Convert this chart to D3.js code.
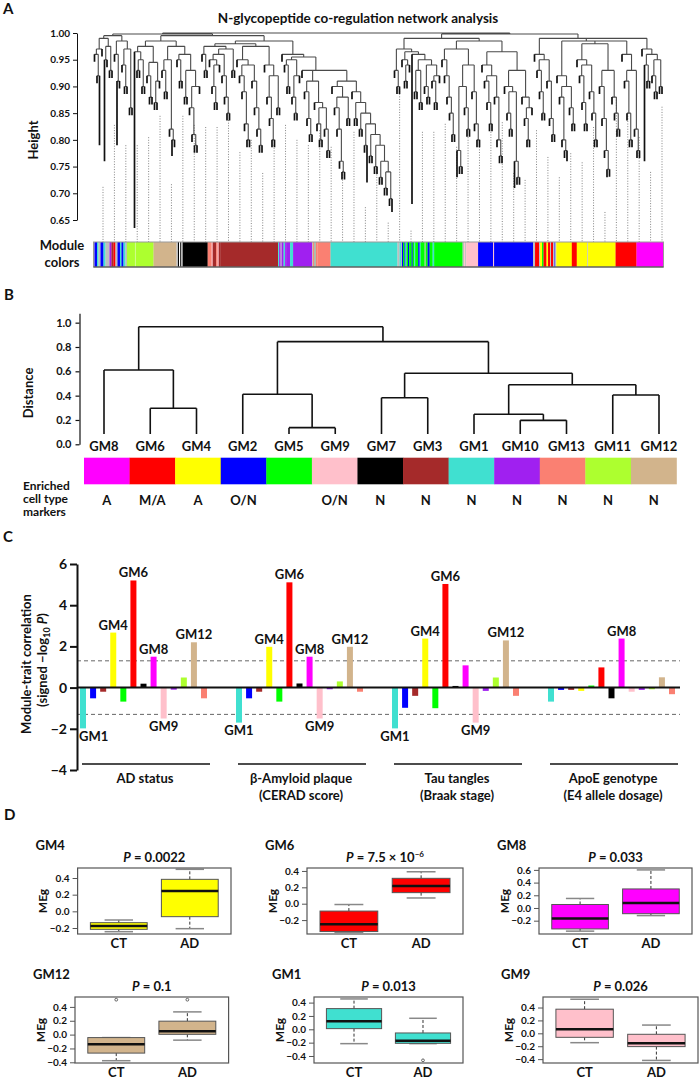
<!DOCTYPE html>
<html><head><meta charset="utf-8">
<script src="https://cdn.jsdelivr.net/npm/d3@7/dist/d3.min.js"></script>
<style>
body{margin:0;background:#fff;}
svg text{font-family:Lato,"Open Sans",sans-serif;font-weight:700;fill:#111;}
</style></head><body>
<svg id="fig" width="700" height="1082" xmlns="http://www.w3.org/2000/svg"></svg>
<script>
// ================= DATA =================
const moduleHex = {grey:"#BEBEBE",turquoise:"#40E0D0",blue:"#0000FF",brown:"#A52A2A",yellow:"#FFFF00",green:"#00FF00",red:"#FF0000",black:"#000000",pink:"#FFC0CB",magenta:"#FF00FF",purple:"#A020F0",greenyellow:"#ADFF2F",tan:"#D2B48C",salmon:"#FA8072",white:"#FFFFFF",palegreen:"#E6F7C8"};

// ---- Panel A ----
const heightTicks = [0.65,0.70,0.75,0.80,0.85,0.90,0.95,1.00];
// merge height between consecutive leaves (display order)
const dendroMerges = [
 0.96,0.92,0.97,0.99,0.95,0.975,0.93,0.995,0.96,0.91,0.985,0.94,0.90,0.97,0.86,
 0.998,
 0.965,0.93,0.95,0.90,0.975,0.92,0.88,0.945,0.87,0.91,0.985,0.93,0.89,0.95,0.82,0.80,0.975,0.95,0.91,0.96,0.88,0.93,0.86,0.81,0.79,0.90,
 0.995,
 0.96,0.93,0.975,0.95,0.90,0.87,0.94,0.96,0.92,0.88,0.85,0.97,0.93,0.98,0.95,0.92,0.89,0.83,0.80,0.94,0.91,0.86,0.82,0.79,0.975,0.94,0.88,0.84,0.80,0.92,0.86,
 0.985,
 0.96,0.94,0.90,0.95,0.88,0.85,0.92,0.955,
 0.93,0.89,0.84,0.81,0.91,0.87,0.83,0.80,0.86,0.82,0.78,0.93,
 0.90,0.86,0.82,0.76,0.74,0.88,0.84,0.91,
 0.89,0.84,0.87,0.82,0.85,0.79,0.83,0.77,0.81,0.75,0.79,0.73,0.76,0.71,0.74,0.69,
 1.0,
 0.93,0.90,0.97,0.95,0.91,0.94,0.965,0.96,0.89,0.93,0.87,0.95,0.90,0.88,0.94,0.91,0.87,0.92,
 0.99,
 0.95,0.92,0.88,0.85,0.81,0.97,0.78,0.75,0.90,0.86,0.82,0.94,0.89,0.83,0.80,
 0.985,
 0.94,0.91,0.87,0.83,0.92,0.88,0.80,0.77,0.965,0.90,0.85,0.82,0.89,0.76,0.73,0.93,0.88,0.84,0.80,0.86,
 0.998,
 0.96,0.93,0.89,0.85,0.95,0.91,0.84,0.81,0.99,0.92,0.88,0.80,0.78,0.90,0.86,0.83,
 0.985,
 0.95,0.92,0.87,0.83,0.94,0.89,0.85,0.80,0.98,0.90,0.84,0.78,0.745,0.93,0.88,0.85,0.82,
 0.985,
 0.96,0.91,0.85,0.80,0.93,0.82,0.78,
 0.99,
 0.97,0.94,0.91,0.96,0.92,0.89,0.95,0.90
];
// leaves whose lines hang unusually deep: [leaf index, bottom height]
const dendroLongLeaves = [[2,0.79],[4,0.76],[9,0.79],[16,0.635],[31,0.77],[109,0.72],[119,0.665],[127,0.68],[145,0.73],[168,0.71],[189,0.76],[205,0.73],[220,0.76]];
// dotted guide lines (evenly spaced), top heights
const dottedTops = [0.712,0.828,0.79,0.79,0.805,0.845,0.717,0.845,0.828,0.824,0.824,0.837,0.777,0.80,0.738,0.79,0.828,0.80,0.79,0.818,0.787,0.74,
 0.815,0.674,0.75,0.645,0.896,0.63,0.815,0.815,0.83,0.787,0.805,0.787,0.815,0.833,0.738,0.725,0.818,0.768,0.73,0.775,0.758,0.824,0.665,0.875,0.85,0.805,0.74,0.862];
// module colour bar: run-length [colour, width units]
const colorRuns = [
 ["grey",1],["blue",2.5],["turquoise",1.5],["grey",2],["blue",3],["turquoise",2],["grey",4],["purple",2],["brown",2],["red",2],["grey",2],["blue",2.5],["turquoise",1.5],["blue",2],["turquoise",2],["grey",1.5],
 ["greenyellow",8],["palegreen",0.6],["greenyellow",18],
 ["tan",23],
 ["grey",1.5],["black",1],["white",1.2],["black",1],["grey",1.5],
 ["black",25],
 ["salmon",4],["pink",1],["brown",3.5],["salmon",1.5],["pink",1],["brown",1.5],
 ["brown",58],
 ["turquoise",1],["purple",1.5],["grey",1],["purple",2],["turquoise",1.5],["purple",1],
 ["purple",4],["turquoise",3],["purple",19],
 ["grey",1],["salmon",1.5],["turquoise",1],["salmon",2],
 ["salmon",13],
 ["turquoise",67],
 ["grey",2],["turquoise",1.5],["grey",1],["blue",1],["green",1.5],["blue",1],["turquoise",1],["green",1.5],["blue",1.2],["green",2.5],["blue",1],["green",1.5],["turquoise",1],["green",3],["blue",1.5],["turquoise",1],
 ["green",4],["grey",1],["green",2],["blue",2],["green",3],["turquoise",1.5],
 ["green",28.5],
 ["grey",1.5],["pink",1],["grey",1],
 ["pink",12],["blue",15],["pink",1],["blue",39],
 ["grey",2],["red",4],["grey",1],["yellow",2],["green",1.5],["red",3],["yellow",1.5],["red",2],["grey",1],["red",2],["grey",1.5],["blue",0.8],["grey",1],
 ["yellow",15.5],["red",5],["yellow",10.5],["grey",0.8],["yellow",27.5],["red",21],["magenta",27]
];

// ---- Panel B ----
const moduleOrder = ["GM8","GM6","GM4","GM2","GM5","GM9","GM7","GM3","GM1","GM10","GM13","GM11","GM12"];
const moduleOrderColors = ["magenta","red","yellow","blue","green","pink","black","brown","turquoise","purple","salmon","greenyellow","tan"];
const markerLabels = ["A","M/A","A","O/N","","O/N","N","N","N","N","N","N","N"];
const distanceTicks = [0,0.2,0.4,0.6,0.8,1.0];
const moduleTree = {h:0.967,c:[
  {h:0.611,c:["GM8",{h:0.296,c:["GM6","GM4"]}]},
  {h:0.844,c:[
    {h:0.411,c:["GM2",{h:0.137,c:["GM5","GM9"]}]},
    {h:0.584,c:[
      {h:0.383,c:["GM7","GM3"]},
      {h:0.49,c:[
        {h:0.247,c:["GM1",{h:0.197,c:["GM10","GM13"]}]},
        {h:0.405,c:["GM11","GM12"]}]}]}]}]};
const leafHangHeight = 0.085;

// ---- Panel C ----
const traitModules = ["GM1","GM2","GM3","GM4","GM5","GM6","GM7","GM8","GM9","GM10","GM11","GM12","GM13"];
const traitModuleColors = ["turquoise","blue","brown","yellow","green","red","black","magenta","pink","purple","greenyellow","tan","salmon"];
const traitNames = ["AD status","β-Amyloid plaque","Tau tangles","ApoE genotype"];
const traitSubNames = ["","(CERAD score)","(Braak stage)","(E4 allele dosage)"];
const corrADstatus = [-1.98,-0.52,-0.2,2.67,-0.68,5.2,0.19,1.5,-1.5,-0.1,0.49,2.2,-0.52];
const corrPlaque   = [-1.7,-0.52,-0.2,1.98,-0.68,5.11,0.2,1.5,-1.5,-0.08,0.3,1.98,-0.2];
const corrTangles  = [-1.98,-0.98,-0.4,2.38,-1.0,5.03,0.08,1.08,-1.7,-0.16,0.49,2.29,-0.4];
const corrApoE     = [-0.68,-0.11,-0.11,-0.16,0.1,0.98,-0.52,2.38,-0.2,-0.11,-0.08,0.5,-0.32];
const corrTicks = [-4,-2,0,2,4,6];
const sigLevel = 1.3;

// ---- Panel D ----
const boxModules = ["GM4","GM6","GM8","GM12","GM1","GM9"];
const boxColors = ["yellow","red","magenta","tan","turquoise","pink"];
const boxPValues = ["0.0022","7.5 × 10","0.033","0.1","0.013","0.026"];
const boxPExponents = ["","−6","","","",""];
const boxGroups = ["CT","AD"];
// [lower whisker, Q1, median, Q3, upper whisker]
const boxStatsCT = [[-0.244,-0.216,-0.176,-0.136,-0.104],[-0.35,-0.34,-0.25,-0.09,-0.01],[-0.365,-0.33,-0.165,0.055,0.15],[-0.377,-0.267,-0.139,-0.043,-0.043],[-0.215,0.01,0.12,0.31,0.455],[-0.145,-0.062,0.062,0.374,0.528]];
const boxStatsAD = [[-0.208,-0.064,0.244,0.384,0.504],[0.07,0.135,0.215,0.31,0.39],[-0.12,-0.09,0.08,0.30,0.60],[-0.08,0.004,0.047,0.194,0.328],[-0.215,-0.21,-0.17,-0.055,0.165],[-0.42,-0.206,-0.154,-0.015,0.128]];
const boxOutliersCT = [[],[],[],[0.504],[],[]];
const boxOutliersAD = [[],[],[],[0.504],[-0.465],[]];
const boxYDomains = [[-0.272,0.52],[-0.37,0.436],[-0.41,0.63],[-0.41,0.543],[-0.505,0.484],[-0.46,0.563]];
const boxYTicks = [[-0.2,0,0.2,0.4],[-0.2,0,0.2,0.4],[-0.2,0,0.2,0.4,0.6],[-0.4,-0.2,0,0.2,0.4],[-0.4,-0.2,0,0.2,0.4],[-0.4,-0.2,0,0.2,0.4]];

// ================= DRAWING =================
const svg = d3.select("#fig");
function panelLabel(t,x,y){svg.append("text").attr("x",x).attr("y",y).attr("font-size",15).text(t);}
function styleAxis(g,fs,sw){
  g.attr("font-size",fs).attr("font-family",null);
  g.select(".domain").attr("stroke","#111").attr("stroke-width",sw);
  g.selectAll(".tick line").attr("stroke","#111").attr("stroke-width",sw);
  g.selectAll(".tick text").attr("fill","#111");
}

// ---------- Panel A ----------
panelLabel("A",3,14);
svg.append("text").attr("x",358).attr("y",23).attr("text-anchor","middle").attr("font-size",13.5)
  .text("N-glycopeptide co-regulation network analysis");
const yA = d3.scaleLinear().domain([0.65,1.0]).range([220,33]);
const barTop = 242, barH = 25, ax0 = 93.5, ax1 = 663.5;
const nLeaves = dendroMerges.length+1;
const leafX = d3.scaleLinear().domain([0,nLeaves-1]).range([ax0+1,ax1-1.5]);
const longMap = new Map(dendroLongLeaves);
const hang = 0.014;

// axis
svg.append("g").attr("transform","translate(77,0)")
  .call(d3.axisLeft(yA).tickValues(heightTicks).tickFormat(d3.format(".2f")).tickSize(4).tickSizeOuter(0).tickPadding(3))
  .call(g=>styleAxis(g,10,1));
svg.append("text").attr("transform","translate(38,140) rotate(-90)").attr("text-anchor","middle").attr("font-size",13).text("Height");

// dotted lines
const dotX = d3.scalePoint().domain(d3.range(dottedTops.length)).range([103,662]);
svg.append("g").selectAll("line").data(dottedTops).join("line")
  .attr("x1",(d,i)=>dotX(i)).attr("x2",(d,i)=>dotX(i))
  .attr("y1",d=>yA(d)).attr("y2",barTop)
  .attr("stroke","#666").attr("stroke-width",0.8).attr("stroke-dasharray","1,1.6");

// dendrogram (Cartesian tree from adjacent merge heights)
function buildTree(lo,hi){
  if(lo===hi) return {leaf:lo};
  let k=lo,m=-Infinity;
  for(let i=lo;i<hi;i++){ if(dendroMerges[i]>m){m=dendroMerges[i];k=i;} }
  return {height:m,children:[buildTree(lo,k),buildTree(k+1,hi)]};
}
const rootA = d3.hierarchy(buildTree(0,nLeaves-1));
rootA.eachAfter(n=>{
  if(n.children){ n.x = d3.mean(n.children,c=>c.x); n.h = n.data.height; }
  else { n.x = leafX(n.data.leaf); }
});
let pathBranch = "", pathLeaf = "";
rootA.each(n=>{
  if(!n.children) return;
  const yy = yA(n.h);
  pathBranch += `M${n.children[0].x},${yy}H${n.children[1].x}`;
  n.children.forEach(c=>{
    if(c.children){ pathBranch += `M${c.x},${yy}V${yA(c.h)}`; }
    else {
      const bottom = longMap.has(c.data.leaf) ? longMap.get(c.data.leaf) : n.h-hang;
      pathLeaf += `M${c.x},${yy}V${yA(bottom)}`;
    }
  });
});
svg.append("path").attr("d",pathBranch).attr("fill","none").attr("stroke","#4a4a4a").attr("stroke-width",1.1);
svg.append("path").attr("d",pathLeaf).attr("fill","none").attr("stroke","#111").attr("stroke-width",1.7);

// colour bar
const runTotal = d3.sum(colorRuns,d=>d[1]);
const cbX = d3.scaleLinear().domain([0,runTotal]).range([ax0,ax1]);
let acc=0;
const runs = colorRuns.map(r=>{const o={c:r[0],s:acc,e:acc+r[1]};acc+=r[1];return o;});
svg.append("g").selectAll("rect").data(runs).join("rect")
  .attr("x",d=>cbX(d.s)).attr("width",d=>cbX(d.e)-cbX(d.s)+0.15)
  .attr("y",barTop).attr("height",barH).attr("fill",d=>moduleHex[d.c]);
svg.append("rect").attr("x",ax0).attr("y",barTop).attr("width",ax1-ax0).attr("height",barH)
  .attr("fill","none").attr("stroke","#999").attr("stroke-width",1);
svg.append("line").attr("x1",ax0).attr("x2",ax1).attr("y1",barTop+barH).attr("y2",barTop+barH).attr("stroke","#444").attr("stroke-width",1);
svg.append("text").attr("x",62).attr("y",250).attr("text-anchor","middle").attr("font-size",13).text("Module");
svg.append("text").attr("x",62).attr("y",267).attr("text-anchor","middle").attr("font-size",13).text("colors");

// ---------- Panel B ----------
panelLabel("B",4,300);
const yB = d3.scaleLinear().domain([0,1.077]).range([444.3,313.3]);
const xLeafB = d3.scalePoint().domain(moduleOrder).range([104,659]);
const xRectB = d3.scaleBand().domain(moduleOrder).range([84,676.5]);
svg.append("g").attr("transform","translate(79.5,0)")
  .call(d3.axisLeft(yB).tickValues(distanceTicks).tickFormat(d3.format(".1f")).tickSize(4).tickSizeOuter(0).tickPadding(4))
  .call(g=>styleAxis(g,11,1.2));
svg.append("text").attr("transform","translate(33,393) rotate(-90)").attr("text-anchor","middle").attr("font-size",13).text("Distance");
const rootB = d3.hierarchy(moduleTree,d=>d.c);
rootB.eachAfter(n=>{ n.x = n.children ? d3.mean(n.children,c=>c.x) : xLeafB(n.data); n.h = n.children ? n.data.h : leafHangHeight; });
let pathB="";
rootB.each(n=>{
  if(!n.children) return;
  pathB += `M${n.children[0].x},${yB(n.h)}H${n.children[1].x}`;
  n.children.forEach(c=>{ pathB += `M${c.x},${yB(n.h)}V${yB(c.h)}`; });
});
svg.append("path").attr("d",pathB).attr("fill","none").attr("stroke","#111").attr("stroke-width",1.6);
svg.append("g").selectAll("text").data(moduleOrder).join("text")
  .attr("x",d=>xLeafB(d)).attr("y",451).attr("text-anchor","middle").attr("font-size",13).text(d=>d);
svg.append("g").selectAll("rect").data(moduleOrder).join("rect")
  .attr("x",d=>xRectB(d)).attr("width",xRectB.bandwidth()+0.3).attr("y",457.7).attr("height",26.6)
  .attr("fill",(d,i)=>moduleHex[moduleOrderColors[i]]);
svg.append("g").selectAll("text").data(markerLabels).join("text")
  .attr("x",(d,i)=>xRectB(moduleOrder[i])+xRectB.bandwidth()/2).attr("y",504.5).attr("text-anchor","middle").attr("font-size",13).text(d=>d);
["Enriched","cell type","markers"].forEach((t,i)=>svg.append("text").attr("x",23).attr("y",490+i*13).attr("font-size",12).text(t));

// ---------- Panel C ----------
panelLabel("C",3,542);
const yC = d3.scaleLinear().domain([-4,6]).range([770,564]);
const xGroup = d3.scaleBand().domain(traitNames).range([80,704]);
const xBar = d3.scaleBand().domain(traitModules).range([0,127]).paddingInner(0.405);
const corrSets = [corrADstatus,corrPlaque,corrTangles,corrApoE];
const cAxisX = 77, cEnd = 680;
[sigLevel,-sigLevel].forEach(v=>svg.append("line").attr("x1",cAxisX).attr("x2",cEnd).attr("y1",yC(v)).attr("y2",yC(v))
  .attr("stroke","#666").attr("stroke-width",1).attr("stroke-dasharray","4,3"));
const gC = svg.append("g");
corrSets.forEach((vals,gi)=>{
  const gx = xGroup(traitNames[gi]);
  vals.forEach((v,i)=>{
    const x = gx + xBar(traitModules[i]);
    gC.append("rect").attr("x",x).attr("width",xBar.bandwidth())
      .attr("y",Math.min(yC(v),yC(0))).attr("height",Math.abs(yC(v)-yC(0)))
      .attr("fill",moduleHex[traitModuleColors[i]]);
  });
});
svg.append("line").attr("x1",cAxisX).attr("x2",cEnd).attr("y1",yC(0)).attr("y2",yC(0)).attr("stroke","#111").attr("stroke-width",2);
corrSets.forEach((vals,gi)=>{
  const gx = xGroup(traitNames[gi]);
  vals.forEach((v,i)=>{
    if(Math.abs(v)<=sigLevel) return;
    const cx = gx + xBar(traitModules[i]) + xBar.bandwidth()/2;
    const t = svg.append("text").attr("x",cx).attr("y",v>0?yC(v)-3:yC(v)+12.5).attr("text-anchor","middle").attr("font-size",13).text(traitModules[i]);
    const w = t.node().getComputedTextLength();
    if(cx-w/2 < cAxisX+2) t.attr("x",cAxisX+2+w/2);
  });
  svg.append("line").attr("x1",gx+2).attr("x2",gx+130).attr("y1",764).attr("y2",764).attr("stroke","#111").attr("stroke-width",1.5);
  const cxg = gx+65;
  svg.append("text").attr("x",cxg).attr("y",783).attr("text-anchor","middle").attr("font-size",13).text(traitNames[gi]);
  if(traitSubNames[gi]) svg.append("text").attr("x",cxg).attr("y",800).attr("text-anchor","middle").attr("font-size",13).text(traitSubNames[gi]);
});
svg.append("g").attr("transform",`translate(${cAxisX},0)`)
  .call(d3.axisLeft(yC).tickValues(corrTicks).tickFormat(d3.format("d")).tickSize(7).tickSizeOuter(0).tickPadding(3))
  .call(g=>styleAxis(g,14,2));
svg.append("text").attr("transform","translate(31,664) rotate(-90)").attr("text-anchor","middle").attr("font-size",13).text("Module-trait correlation");
const yl2 = svg.append("text").attr("transform","translate(47,660) rotate(-90)").attr("text-anchor","middle").attr("font-size",13);
yl2.append("tspan").text("(signed −log");
yl2.append("tspan").attr("font-size",9).attr("dy",3).text("10");
yl2.append("tspan").attr("dy",-3).text(" ");
yl2.append("tspan").attr("font-style","italic").text("P");
yl2.append("tspan").text(")");

// ---------- Panel D ----------
panelLabel("D",4,820);
const frames = [[77.6,231,868,934],[307,463,868,934],[539,692,868,934],[75,228.6,997,1063],[314,463,997,1063],[543,698,997,1063]];
boxModules.forEach((m,i)=>{
  const [fx0,fx1,fy0,fy1] = frames[i];
  const g = svg.append("g");
  const x = d3.scaleLinear().domain([0.42,2.58]).range([fx0,fx1]);
  const y = d3.scaleLinear().domain(boxYDomains[i]).range([fy1,fy0]);
  const u = x(2)-x(1);
  const fill = moduleHex[boxColors[i]];
  [boxStatsCT[i],boxStatsAD[i]].forEach((s,j)=>{
    const cx = x(j+1);
    g.append("line").attr("x1",cx).attr("x2",cx).attr("y1",y(s[3])).attr("y2",y(s[4])).attr("stroke","#333").attr("stroke-dasharray","3,2");
    g.append("line").attr("x1",cx).attr("x2",cx).attr("y1",y(s[1])).attr("y2",y(s[0])).attr("stroke","#333").attr("stroke-dasharray","3,2");
    [s[0],s[4]].forEach(v=>g.append("line").attr("x1",cx-0.2*u).attr("x2",cx+0.2*u).attr("y1",y(v)).attr("y2",y(v)).attr("stroke","#888").attr("stroke-width",1.5));
    g.append("rect").attr("x",cx-0.4*u).attr("width",0.8*u).attr("y",y(s[3])).attr("height",y(s[1])-y(s[3]))
      .attr("fill",fill).attr("stroke","#555").attr("stroke-width",1);
    g.append("line").attr("x1",cx-0.4*u).attr("x2",cx+0.4*u).attr("y1",y(s[2])).attr("y2",y(s[2])).attr("stroke","#111").attr("stroke-width",2.5);
    const outs = j===0?boxOutliersCT[i]:boxOutliersAD[i];
    outs.forEach(v=>g.append("circle").attr("cx",cx).attr("cy",y(v)).attr("r",1.4).attr("fill","none").attr("stroke","#444").attr("stroke-width",0.8));
    svg.append("text").attr("x",cx).attr("y",fy1+14).attr("text-anchor","middle").attr("font-size",13).text(boxGroups[j]);
  });
  g.append("rect").attr("x",fx0).attr("y",fy0).attr("width",fx1-fx0).attr("height",fy1-fy0).attr("fill","none").attr("stroke","#555").attr("stroke-width",1.2);
  g.append("g").attr("transform",`translate(${fx0},0)`)
    .call(d3.axisLeft(y).tickValues(boxYTicks[i]).tickFormat(d3.format(".1f")).tickSize(5).tickSizeOuter(0).tickPadding(3))
    .call(gg=>{styleAxis(gg,10,1); gg.select(".domain").remove(); gg.selectAll(".tick line").attr("stroke","#555");});
  svg.append("text").attr("x",fx0-42).attr("y",fy0-18).attr("font-size",13).text(m);
  const pt = svg.append("text").attr("x",(fx0+fx1)/2).attr("y",fy0-6.5).attr("text-anchor","middle").attr("font-size",13);
  pt.append("tspan").attr("font-style","italic").text("P");
  pt.append("tspan").text(" = "+boxPValues[i]);
  if(boxPExponents[i]) pt.append("tspan").attr("font-size",8).attr("dy",-5).text(boxPExponents[i]);
  svg.append("text").attr("transform",`translate(${fx0-35},${(fy0+fy1)/2}) rotate(-90)`).attr("text-anchor","middle").attr("dominant-baseline","central").attr("font-size",12).text("MEg");
});
</script>
</body></html>
